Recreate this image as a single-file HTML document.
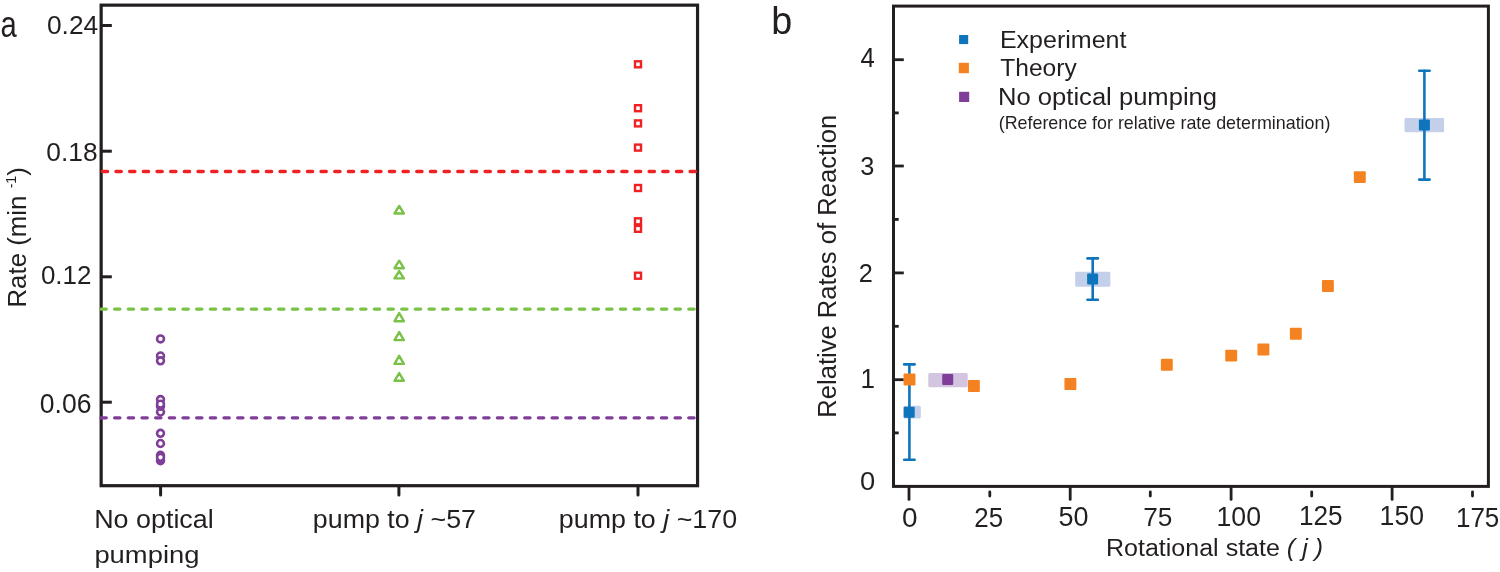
<!DOCTYPE html>
<html><head><meta charset="utf-8"><style>
html,body{margin:0;padding:0;background:#fff;overflow:hidden;}
svg{display:block;will-change:transform;}
text{font-family:"Liberation Sans",sans-serif;}
</style></head><body>
<svg width="1500" height="572" viewBox="0 0 1500 572">
<rect width="1500" height="572" fill="#fff"/>
<rect x="101.15" y="5.15" width="596.4" height="480.55" fill="none" stroke="#231f20" stroke-width="3.2"/>
<line x1="101" y1="25.5" x2="111.8" y2="25.5" stroke="#231f20" stroke-width="3"/>
<line x1="101" y1="151.2" x2="111.8" y2="151.2" stroke="#231f20" stroke-width="3"/>
<line x1="101" y1="276.8" x2="111.8" y2="276.8" stroke="#231f20" stroke-width="3"/>
<line x1="101" y1="402.2" x2="111.8" y2="402.2" stroke="#231f20" stroke-width="3"/>
<line x1="160.6" y1="487" x2="160.6" y2="495" stroke="#231f20" stroke-width="3" stroke-linecap="round"/>
<line x1="398.9" y1="487" x2="398.9" y2="495" stroke="#231f20" stroke-width="3" stroke-linecap="round"/>
<line x1="638" y1="487" x2="638" y2="495" stroke="#231f20" stroke-width="3" stroke-linecap="round"/>
<line x1="102.3" y1="171.5" x2="697" y2="171.5" stroke="#ee2225" stroke-width="3.3" stroke-linecap="round" stroke-dasharray="5.3 8.37"/>
<line x1="100.95" y1="309.1" x2="697" y2="309.1" stroke="#79c247" stroke-width="3.3" stroke-linecap="round" stroke-dasharray="5.3 8.37"/>
<line x1="100.95" y1="417.8" x2="697" y2="417.8" stroke="#7f3f98" stroke-width="3.3" stroke-linecap="round" stroke-dasharray="5.3 8.37"/>
<circle cx="160.5" cy="338.9" r="3.45" fill="#fff" stroke="#7f3f98" stroke-width="2.6"/>
<circle cx="160.5" cy="356" r="3.45" fill="#fff" stroke="#7f3f98" stroke-width="2.6"/>
<circle cx="160.5" cy="360.8" r="3.45" fill="#fff" stroke="#7f3f98" stroke-width="2.6"/>
<circle cx="160.5" cy="399.6" r="3.45" fill="#fff" stroke="#7f3f98" stroke-width="2.6"/>
<circle cx="160.5" cy="412" r="3.45" fill="#fff" stroke="#7f3f98" stroke-width="2.6"/>
<circle cx="160.5" cy="406.3" r="3.45" fill="#fff" stroke="#7f3f98" stroke-width="2.6"/>
<circle cx="160.5" cy="404.2" r="3.45" fill="#fff" stroke="#7f3f98" stroke-width="2.6"/>
<circle cx="160.5" cy="433.3" r="3.45" fill="#fff" stroke="#7f3f98" stroke-width="2.6"/>
<circle cx="160.5" cy="443.5" r="3.45" fill="#fff" stroke="#7f3f98" stroke-width="2.6"/>
<circle cx="160.5" cy="455.25" r="3.45" fill="#fff" stroke="#7f3f98" stroke-width="2.6"/>
<circle cx="160.5" cy="460.75" r="3.45" fill="#7f3f98" stroke="#7f3f98" stroke-width="2.6"/>
<circle cx="160.5" cy="457.3" r="3.45" fill="#fff" stroke="#7f3f98" stroke-width="2.6"/>
<path d="M399.2,205.89999999999998 L394.55,213.5 L403.84999999999997,213.5 Z" fill="none" stroke="#79c247" stroke-width="2.4" stroke-linejoin="round"/>
<path d="M399.2,260.7 L394.55,268.2 L403.84999999999997,268.2 Z" fill="none" stroke="#79c247" stroke-width="2.4" stroke-linejoin="round"/>
<path d="M399.2,271.09999999999997 L394.55,278.40000000000003 L403.84999999999997,278.40000000000003 Z" fill="none" stroke="#79c247" stroke-width="2.4" stroke-linejoin="round"/>
<path d="M399.2,313.0 L394.55,321.2 L403.84999999999997,321.2 Z" fill="none" stroke="#79c247" stroke-width="2.4" stroke-linejoin="round"/>
<path d="M399.2,332.09999999999997 L394.55,340.1 L403.84999999999997,340.1 Z" fill="none" stroke="#79c247" stroke-width="2.4" stroke-linejoin="round"/>
<path d="M399.2,355.8 L394.55,363.90000000000003 L403.84999999999997,363.90000000000003 Z" fill="none" stroke="#79c247" stroke-width="2.4" stroke-linejoin="round"/>
<path d="M399.2,373.09999999999997 L394.55,380.8 L403.84999999999997,380.8 Z" fill="none" stroke="#79c247" stroke-width="2.4" stroke-linejoin="round"/>
<rect x="635" y="61.3" width="6" height="6" fill="none" stroke="#ee2225" stroke-width="2.4"/>
<rect x="635" y="105.2" width="6" height="6" fill="none" stroke="#ee2225" stroke-width="2.4"/>
<rect x="635" y="120.4" width="6" height="6" fill="none" stroke="#ee2225" stroke-width="2.4"/>
<rect x="635" y="144.6" width="6" height="6" fill="none" stroke="#ee2225" stroke-width="2.4"/>
<rect x="635" y="185" width="6" height="6" fill="none" stroke="#ee2225" stroke-width="2.4"/>
<rect x="635" y="218.3" width="6" height="6" fill="none" stroke="#ee2225" stroke-width="2.4"/>
<rect x="635" y="225.8" width="6" height="6" fill="none" stroke="#ee2225" stroke-width="2.4"/>
<rect x="635" y="272.7" width="6" height="6" fill="none" stroke="#ee2225" stroke-width="2.4"/>
<rect x="893.5" y="6.1" width="594.9" height="480.3" fill="none" stroke="#231f20" stroke-width="3"/>
<line x1="893" y1="59.7" x2="903.8" y2="59.7" stroke="#231f20" stroke-width="2.8"/>
<line x1="893" y1="166" x2="903.8" y2="166" stroke="#231f20" stroke-width="2.8"/>
<line x1="893" y1="272.9" x2="903.8" y2="272.9" stroke="#231f20" stroke-width="2.8"/>
<line x1="893" y1="379.7" x2="903.8" y2="379.7" stroke="#231f20" stroke-width="2.8"/>
<line x1="893" y1="112.9" x2="898.7" y2="112.9" stroke="#231f20" stroke-width="2.8"/>
<line x1="893" y1="219.4" x2="898.7" y2="219.4" stroke="#231f20" stroke-width="2.8"/>
<line x1="893" y1="326.3" x2="898.7" y2="326.3" stroke="#231f20" stroke-width="2.8"/>
<line x1="893" y1="432.9" x2="898.7" y2="432.9" stroke="#231f20" stroke-width="2.8"/>
<line x1="909" y1="487" x2="909" y2="499.4" stroke="#231f20" stroke-width="2.8" stroke-linecap="round"/>
<line x1="1070.2" y1="487" x2="1070.2" y2="499.4" stroke="#231f20" stroke-width="2.8" stroke-linecap="round"/>
<line x1="1231.1" y1="487" x2="1231.1" y2="499.4" stroke="#231f20" stroke-width="2.8" stroke-linecap="round"/>
<line x1="1392.1" y1="487" x2="1392.1" y2="499.4" stroke="#231f20" stroke-width="2.8" stroke-linecap="round"/>
<line x1="989.8" y1="491.8" x2="989.8" y2="496.1" stroke="#231f20" stroke-width="2.8" stroke-linecap="round"/>
<line x1="1150.3" y1="491.8" x2="1150.3" y2="496.1" stroke="#231f20" stroke-width="2.8" stroke-linecap="round"/>
<line x1="1311.7" y1="491.8" x2="1311.7" y2="496.1" stroke="#231f20" stroke-width="2.8" stroke-linecap="round"/>
<line x1="1472.5" y1="491.8" x2="1472.5" y2="496.1" stroke="#231f20" stroke-width="2.8" stroke-linecap="round"/>
<rect x="903.4" y="405.7" width="17.40" height="12.80" rx="1.5" fill="#c4cfea"/>
<rect x="1075.2" y="271.8" width="35.20" height="14.90" rx="1.5" fill="#c4cfea"/>
<rect x="1404.5" y="117.9" width="39.60" height="14.40" rx="1.5" fill="#c4cfea"/>
<rect x="928.3" y="372.9" width="39.40" height="14.40" rx="1.5" fill="#d3c4e0"/>
<g stroke="#0e74bc" stroke-width="2.6" stroke-linecap="round"><line x1="909.4" y1="364.4" x2="909.4" y2="459.7"/><line x1="904.1999999999999" y1="364.4" x2="914.6" y2="364.4"/><line x1="904.1999999999999" y1="459.7" x2="914.6" y2="459.7"/></g>
<g stroke="#0e74bc" stroke-width="2.6" stroke-linecap="round"><line x1="1092.7" y1="258.4" x2="1092.7" y2="299.8"/><line x1="1087.5" y1="258.4" x2="1097.9" y2="258.4"/><line x1="1087.5" y1="299.8" x2="1097.9" y2="299.8"/></g>
<g stroke="#0e74bc" stroke-width="2.6" stroke-linecap="round"><line x1="1424.4" y1="70.7" x2="1424.4" y2="179.6"/><line x1="1419.2" y1="70.7" x2="1429.6000000000001" y2="70.7"/><line x1="1419.2" y1="179.6" x2="1429.6000000000001" y2="179.6"/></g>
<rect x="903.70" y="406.70" width="11" height="11" rx="1" fill="#0e74bc"/>
<rect x="1087.10" y="273.60" width="11" height="11" rx="1" fill="#0e74bc"/>
<rect x="1418.90" y="119.50" width="11" height="11" rx="1" fill="#0e74bc"/>
<rect x="942.20" y="374.10" width="11" height="11" rx="1" fill="#7f3f98"/>
<rect x="903.55" y="373.55" width="11.9" height="11.9" rx="1" fill="#f58220"/>
<rect x="967.95" y="380.05" width="11.9" height="11.9" rx="1" fill="#f58220"/>
<rect x="1064.45" y="378.05" width="11.9" height="11.9" rx="1" fill="#f58220"/>
<rect x="1160.85" y="358.85" width="11.9" height="11.9" rx="1" fill="#f58220"/>
<rect x="1225.25" y="349.65" width="11.9" height="11.9" rx="1" fill="#f58220"/>
<rect x="1257.45" y="343.55" width="11.9" height="11.9" rx="1" fill="#f58220"/>
<rect x="1289.85" y="327.75" width="11.9" height="11.9" rx="1" fill="#f58220"/>
<rect x="1321.95" y="280.05" width="11.9" height="11.9" rx="1" fill="#f58220"/>
<rect x="1353.85" y="171.15" width="11.9" height="11.9" rx="1" fill="#f58220"/>
<rect x="959.1" y="35" width="9.1" height="9.1" fill="#0e74bc"/>
<rect x="958.8" y="62.8" width="10.1" height="10.4" fill="#f58220"/>
<rect x="959.1" y="91.8" width="10.1" height="10.2" fill="#7f3f98"/>
<text transform="translate(0.43,36.83) scale(0.2923,0.3709)" font-size="100" fill="#231f20">a</text>
<text transform="translate(46.95,33.84) scale(0.2633,0.2592)" font-size="100" fill="#231f20">0.24</text>
<text transform="translate(46.35,160.74) scale(0.2634,0.2577)" font-size="100" fill="#231f20">0.18</text>
<text transform="translate(40.96,283.84) scale(0.2591,0.2592)" font-size="100" fill="#231f20">0.12</text>
<text transform="translate(39.84,412.73) scale(0.2656,0.2676)" font-size="100" fill="#231f20">0.06</text>
<text transform="translate(25.90,305.50) rotate(-90) translate(-2.07,0) scale(0.9776,1)" font-size="26.45" fill="#231f20">Rate (min <tspan font-size="0.55em" dy="-0.7em">-1</tspan><tspan dy="0.385em">)</tspan></text>
<text transform="translate(94.15,528.00) scale(1.0700,1)" font-size="25.15" fill="#231f20">No optical</text>
<text transform="translate(94.38,562.60) scale(1.1224,1)" font-size="24.42" fill="#231f20">pumping</text>
<text transform="translate(312.82,527.70) scale(1.0658,1)" font-size="25.15" fill="#231f20">pump to <tspan font-style="italic">j</tspan> ~57</text>
<text transform="translate(558.82,528.00) scale(1.0494,1)" font-size="25.58" fill="#231f20">pump to <tspan font-style="italic">j</tspan> ~170</text>
<text transform="translate(771.36,33.90) scale(0.3773,0.3863)" font-size="100" fill="#231f20">b</text>
<text transform="translate(860.49,67.17) scale(0.2569,0.2676)" font-size="100" fill="#231f20">4</text>
<text transform="translate(860.19,175.24) scale(0.2532,0.2606)" font-size="100" fill="#231f20">3</text>
<text transform="translate(858.84,281.70) scale(0.2522,0.2629)" font-size="100" fill="#231f20">2</text>
<text transform="translate(860.52,387.50) scale(0.2605,0.2696)" font-size="100" fill="#231f20">1</text>
<text transform="translate(859.91,490.34) scale(0.2729,0.2620)" font-size="100" fill="#231f20">0</text>
<text transform="translate(901.88,526.73) scale(0.2792,0.2676)" font-size="100" fill="#231f20">0</text>
<text transform="translate(974.31,526.53) scale(0.2588,0.2676)" font-size="100" fill="#231f20">25</text>
<text transform="translate(1058.42,526.43) scale(0.2699,0.2718)" font-size="100" fill="#231f20">50</text>
<text transform="translate(1143.19,525.73) scale(0.2627,0.2657)" font-size="100" fill="#231f20">75</text>
<text transform="translate(1216.46,525.73) scale(0.2671,0.2718)" font-size="100" fill="#231f20">100</text>
<text transform="translate(1298.90,525.03) scale(0.2619,0.2718)" font-size="100" fill="#231f20">125</text>
<text transform="translate(1379.57,524.93) scale(0.2665,0.2732)" font-size="100" fill="#231f20">150</text>
<text transform="translate(1455.92,526.93) scale(0.2600,0.2743)" font-size="100" fill="#231f20">175</text>
<text transform="translate(835.70,415.70) rotate(-90) translate(-2.05,0) scale(0.9899,1)" font-size="25.87" fill="#231f20">Relative Rates of Reaction</text>
<text transform="translate(1106.00,555.90) scale(1.0569,1)" font-size="23.69" fill="#231f20">Rotational state <tspan font-style="italic">( j )</tspan></text>
<text transform="translate(999.90,48.40) scale(1.0070,1)" font-size="24.86" fill="#231f20">Experiment</text>
<text transform="translate(1000.31,75.70) scale(0.9941,1)" font-size="24.71" fill="#231f20">Theory</text>
<text transform="translate(998.05,105.20) scale(1.0481,1)" font-size="24.42" fill="#231f20">No optical pumping</text>
<text transform="translate(998.73,128.60) scale(0.9769,1)" font-size="18.31" fill="#231f20">(Reference for relative rate determination)</text>
</svg>
</body></html>
